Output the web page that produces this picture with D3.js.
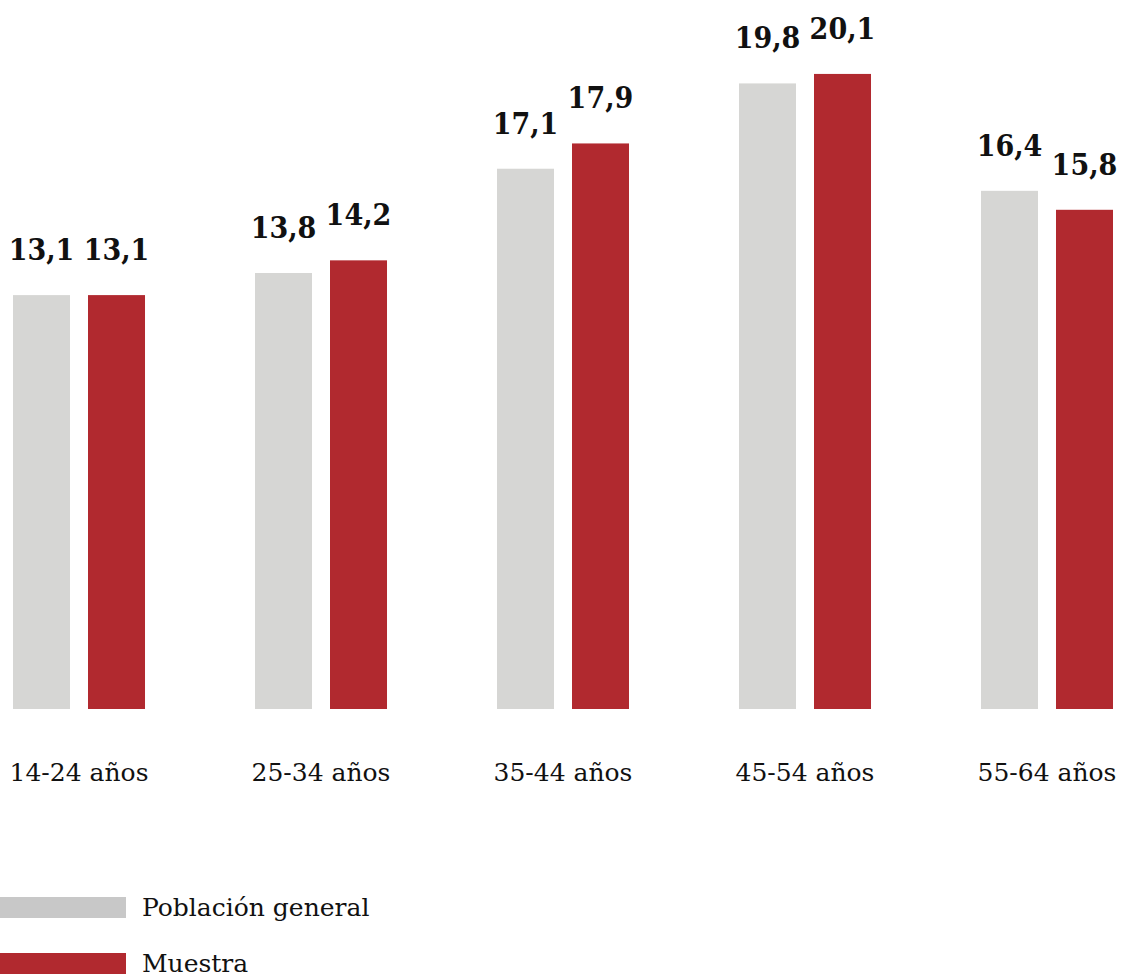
<!DOCTYPE html>
<html>
<head>
<meta charset="utf-8">
<script src="https://cdn.jsdelivr.net/npm/d3@7"></script>
<style>
  html, body { margin: 0; padding: 0; background: #ffffff; }
  svg { display: block; }
  .cat-label, .legend-label { font-family: "DejaVu Serif", serif; font-size: 25px; fill: #111111; }
  .value-label { font-family: "DejaVu Serif Condensed", "DejaVu Serif", serif; font-stretch: condensed; font-weight: bold; font-size: 30px; fill: #111111; }
</style>
</head>
<body>
<div id="chart"></div>
<script>
// Data
var categories = ["14-24 años", "25-34 años", "35-44 años", "45-54 años", "55-64 años"];
var seriesNames = ["Población general", "Muestra"];
var poblacionValues = [13.1, 13.8, 17.1, 19.8, 16.4];
var muestraValues = [13.1, 14.2, 17.9, 20.1, 15.8];

// Colours
var barColors = ["#d6d6d4", "#b1292f"];
var legendColors = ["#c8c8c8", "#b1292f"];

// SVG size
var svgWidth = 1129;
var svgHeight = 977;

var chartMargin = {
  top: 0,
  left: 13,
  right: 16,
  baseline: 709
};

var svg = d3.select("#chart")
  .append("svg")
  .attr("width", svgWidth)
  .attr("height", svgHeight);

// Build rows from the arrays
var rows = categories.map(function(c, i) {
  return { category: c, values: [poblacionValues[i], muestraValues[i]] };
});

// Scales
var x0 = d3.scaleBand()
  .domain(categories)
  .range([chartMargin.left, svgWidth - chartMargin.right])
  .paddingInner(0.4545)
  .paddingOuter(0);

var x1 = d3.scaleBand()
  .domain(seriesNames)
  .range([0, x0.bandwidth()])
  .paddingInner(0.24);

var yScale = d3.scaleLinear()
  .domain([0, 22.44])
  .range([chartMargin.baseline, 0]);

// One group per age band
var groups = svg.selectAll("g.group")
  .data(rows)
  .enter()
  .append("g")
  .attr("class", "group")
  .attr("transform", d => `translate(${x0(d.category)}, 0)`);

var cells = groups.selectAll("g.cell")
  .data(d => d.values.map((v, i) => ({ name: seriesNames[i], value: v, idx: i })))
  .enter()
  .append("g")
  .attr("class", "cell");

cells.append("rect")
  .attr("x", d => x1(d.name))
  .attr("y", d => yScale(d.value))
  .attr("width", x1.bandwidth())
  .attr("height", d => yScale(0) - yScale(d.value))
  .attr("fill", d => barColors[d.idx]);

cells.append("text")
  .attr("class", "value-label")
  .attr("x", d => x1(d.name) + x1.bandwidth() / 2)
  .attr("y", d => yScale(d.value) - 35)
  .attr("text-anchor", "middle")
  .text(d => d3.format(".1f")(d.value).replace(".", ","));

// Category labels under the bars
var xAxis = d3.axisBottom(x0).tickSize(0).tickPadding(0);

var axisGroup = svg.append("g")
  .attr("transform", `translate(0, ${chartMargin.baseline})`)
  .call(xAxis);

axisGroup.select(".domain").remove();
axisGroup.attr("font-size", null).attr("font-family", null);
axisGroup.selectAll("text")
  .attr("class", "cat-label")
  .attr("dy", null)
  .attr("y", 72);

// Legend
var legend = svg.append("g")
  .attr("transform", "translate(0, 897)");

var legendItems = legend.selectAll("g")
  .data(seriesNames)
  .enter()
  .append("g")
  .attr("transform", (d, i) => `translate(0, ${i * 56})`);

legendItems.append("rect")
  .attr("width", 126)
  .attr("height", 21)
  .attr("fill", (d, i) => legendColors[i]);

legendItems.append("text")
  .attr("class", "legend-label")
  .attr("x", 142)
  .attr("y", 19)
  .text(d => d);
</script>
</body>
</html>
